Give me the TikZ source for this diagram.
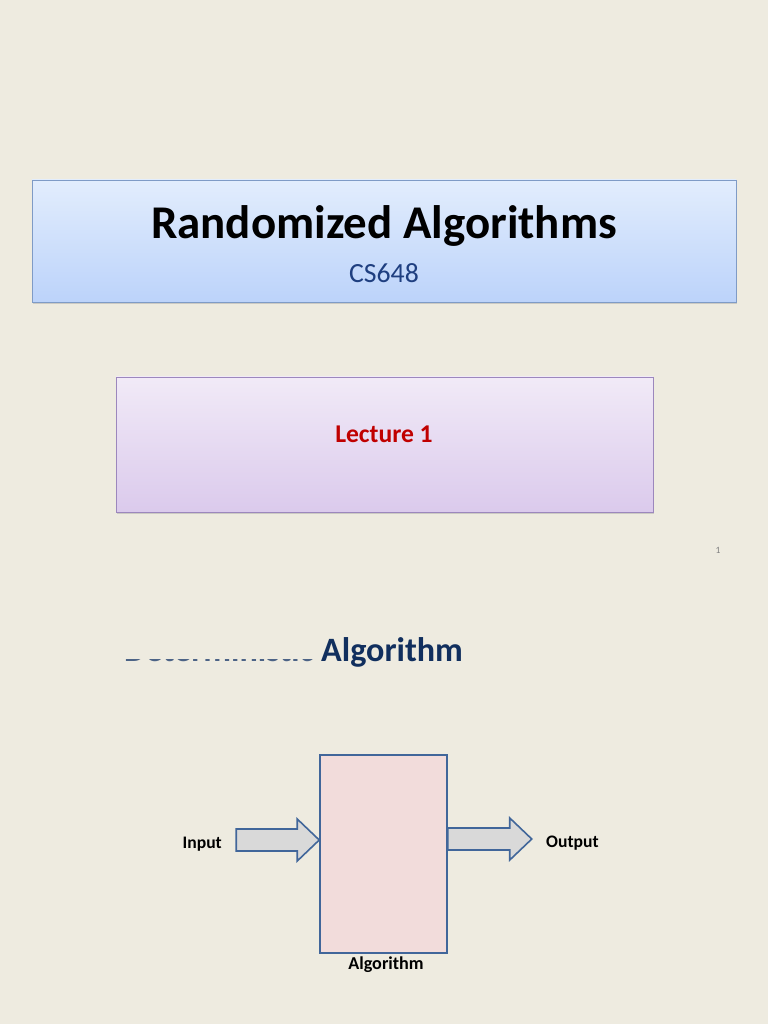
\documentclass[tikz,border=0pt]{standalone}
\usepackage{fontspec}
\setmainfont{Carlito}
\usetikzlibrary{calc,shadows}

\definecolor{slidebg}{HTML}{EEEBE0}
\definecolor{titletop}{HTML}{E2EDFD}
\definecolor{titlebottom}{HTML}{BCD3FA}
\definecolor{titleborder}{HTML}{7F9BC6}
\definecolor{lecttop}{HTML}{F1EAF7}
\definecolor{lectbottom}{HTML}{DBCAEC}
\definecolor{lectborder}{HTML}{9C87BD}
\definecolor{navytext}{HTML}{112F5E}
\definecolor{subtext}{HTML}{1F3F80}
\definecolor{lectred}{HTML}{C00000}
\definecolor{algfill}{HTML}{F2DCDB}
\definecolor{shapeborder}{HTML}{41669A}
\definecolor{arrowfill}{HTML}{D9D9D9}

\tikzset{
  titlebox/.style={draw=titleborder, line width=0.8pt, top color=titletop, bottom color=titlebottom,
    drop shadow={shadow xshift=1pt, shadow yshift=-2pt, opacity=0.3}},
  lectbox/.style={draw=lectborder, line width=0.8pt, top color=lecttop, bottom color=lectbottom,
    drop shadow={shadow xshift=1pt, shadow yshift=-2pt, opacity=0.3}},
  algbox/.style={draw=shapeborder, line width=1.5pt, fill=algfill},
  blockarrow/.style={draw=shapeborder, line width=1.5pt, fill=arrowfill, line join=miter},
  lbl/.style={inner sep=0pt, font=\fontsize{16.5}{19}\selectfont\bfseries}
}

\begin{document}
\begin{tikzpicture}[x=0.9375pt, y=-0.9375pt]
        % Slide background
        \fill[slidebg] (0,0) rectangle (768,1024);
        \useasboundingbox (0,0) rectangle (768,1024);
        % Title slide
        \node[titlebox, minimum width=660pt, minimum height=114.4pt] (titlebg) at (384,241) {};
        \node[inner sep=0pt, anchor=base, font=\fontsize{44}{50}\selectfont\bfseries] (title) at (384,238) {Randomized Algorithms};
        \node[inner sep=0pt, anchor=base, text=subtext, font=\fontsize{26}{30}\selectfont] (course) at (384,282) {CS648};
        \node[lectbox, minimum width=503.4pt, minimum height=126.6pt] (lectbg) at (384.5,444.5) {};
        \node[inner sep=0pt, anchor=base, text=lectred, font=\fontsize{24}{28}\selectfont\bfseries] (lecture) at (384,442) {Lecture 1};
        \node[inner sep=0pt, text=gray, font=\fontsize{9}{11}\selectfont] (pagenum) at (718,550) {1};
        % Second slide heading (partly hidden)
        \node[inner sep=0pt, anchor=base west, text=navytext, font=\fontsize{32}{38}\selectfont\bfseries] (heading) at (321,661) {Algorithm};
        \begin{scope}
            \clip (100,659.6) rectangle (318,680);
            \node[inner sep=0pt, anchor=base east, text=navytext!75, font=\fontsize{32}{38}\selectfont\bfseries] (hidden) at (314,661.5) {Deterministic};
        \end{scope}
        % Algorithm box
        \node[algbox, minimum width=119pt, minimum height=185.6pt] (alg) at (383.5,854) {};
        \coordinate (intip) at ($(alg.west)+(0,-14)$);
        \coordinate (outbase) at ($(alg.east)+(0,-15)$);
        % Input and output arrows
        \draw[blockarrow] ($(intip)+(-83,-11)$) -- ++(61,0) -- ++(0,-10) -- (intip) -- ++(-22,21) -- ++(0,-10) -- ++(-61,0) -- cycle;
        \draw[blockarrow] ($(outbase)+(0,-11)$) -- ++(62,0) -- ++(0,-10) -- ++(22,21) -- ++(-22,21) -- ++(0,-10) -- ++(-62,0) -- cycle;
        % Labels
        \node[lbl, anchor=base east] (input) at (222,848) {Input};
        \node[lbl, anchor=base west] (output) at (546,847) {Output};
        \node[lbl, anchor=base, font=\fontsize{17}{20}\selectfont\bfseries] (alglabel) at (386,969) {Algorithm};
\end{tikzpicture}
\end{document}
